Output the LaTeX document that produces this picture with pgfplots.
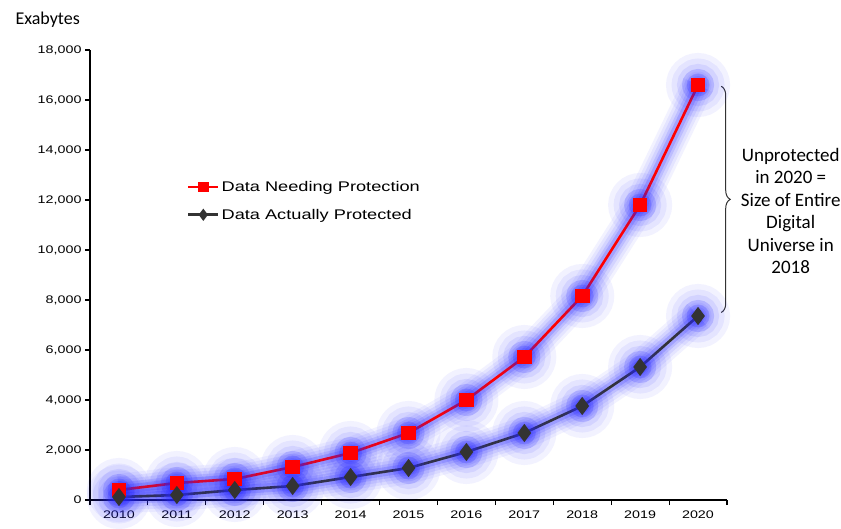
\documentclass[border=0pt]{standalone}
\usepackage{fontspec}
\setmainfont{Liberation Sans}[FakeStretch=1.3]
\newfontfamily\calib{Carlito}
\usepackage{pgfplots}
\pgfplotsset{compat=1.18}
\usetikzlibrary{decorations.pathreplacing}
\definecolor{glow}{RGB}{40,40,255}
\definecolor{darkline}{RGB}{51,51,51}

\pgfplotstableread{
year need prot
2010 400 120
2011 680 200
2012 840 400
2013 1320 560
2014 1880 920
2015 2680 1280
2016 4000 1920
2017 5720 2680
2018 8160 3760
2019 11800 5320
2020 16600 7360
}\datatab

\pgfplotsset{
  glowlayer/.style n args={3}{glow, opacity=#3, line width=#1, mark=*, mark size=#2,
    mark options={draw=none, fill=glow}, forget plot},
}

\begin{document}
\begin{tikzpicture}
\useasboundingbox (-90bp,-29bp) rectangle (751bp,500bp);
\begin{axis}[
  scale only axis,
  width=637bp, height=450bp,
  xmin=2009.5, xmax=2020.5,
  ymin=0, ymax=18000,
  axis x line*=bottom, axis y line*=left,
  axis line style={line width=1.3bp, -},
  xtick={2010,...,2020},
  minor xtick={2009.5,2010.5,...,2020.5},
  major x tick style={draw=none},
  minor tick length=5bp,
  ytick={0,2000,...,18000},
  scaled y ticks=false,
  yticklabel={\pgfmathprintnumber[fixed, precision=0, 1000 sep={,}]{\tick}},
  major tick length=5bp,
  tick align=outside,
  tick style={line width=1.1bp, black},
  xticklabel style={font=\fontsize{11bp}{13bp}\selectfont, /pgf/number format/1000 sep={}, yshift=-2bp},
  yticklabel style={font=\fontsize{11bp}{13bp}\selectfont},
  /pgf/number format/assume math mode=true,
  clip=false,
  legend style={at={(0.152,0.713)}, anchor=north west, draw=none, fill=none,
    font=\fontsize{14bp}{17bp}\selectfont, row sep=12bp, inner sep=0pt},
  legend cell align=left,
  legend image code/.code={\draw[#1, mark repeat=2, mark phase=2, mark size=4bp] plot coordinates {(0bp,0bp) (15bp,0bp) (30bp,0bp)};},
]
% blurred blue glow under the lines
\pgfplotsinvokeforeach{need,prot}{
  \addplot[glowlayer={32bp}{16bp}{0.06}] table[x=year,y=#1] {\datatab};
  \addplot[glowlayer={26bp}{13.5bp}{0.07}] table[x=year,y=#1] {\datatab};
  \addplot[glowlayer={20bp}{11bp}{0.09}] table[x=year,y=#1] {\datatab};
  \addplot[glowlayer={14bp}{9bp}{0.13}] table[x=year,y=#1] {\datatab};
  \addplot[glowlayer={9bp}{7bp}{0.18}] table[x=year,y=#1] {\datatab};
}

\addplot[red, line width=2.6bp, mark=square*, mark size=6bp, mark options={solid, fill=red, draw=red}]
  table[x=year,y=need] {\datatab};
\addlegendentry{Data Needing Protection}
\addplot[darkline, line width=2.6bp, mark=diamond*, mark size=7bp, mark options={solid, fill=darkline, draw=darkline}]
  table[x=year,y=prot] {\datatab};
\addlegendentry{Data Actually Protected}

\draw[decorate, decoration={brace, amplitude=9bp}, line width=1bp, black!80]
  (axis cs:2020.4,16550) -- (axis cs:2020.4,7500);
\node[align=center, font=\calib\fontsize{19bp}{22.5bp}\selectfont] at (axis cs:2021.6,11560)
  {Unprotected\\in 2020 =\\Size of Entire\\Digital\\Universe in\\2018};
\end{axis}
\node[anchor=base west, font=\calib\fontsize{18bp}{20bp}\selectfont] at (-78bp,475bp) {Exabytes};
\end{tikzpicture}
\end{document}
